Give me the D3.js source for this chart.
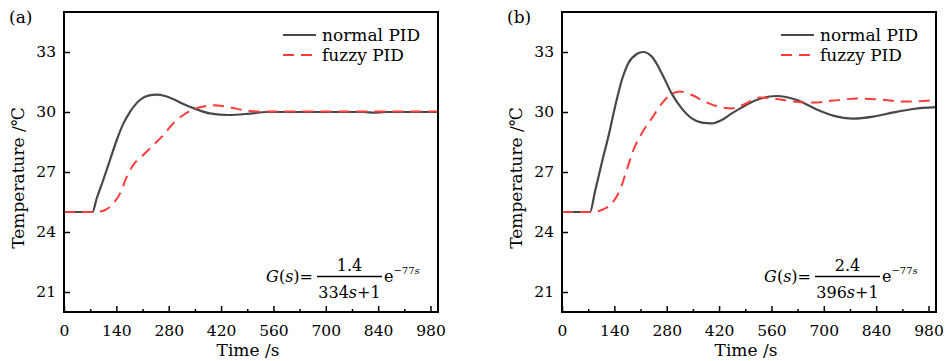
<!DOCTYPE html>
<html>
<head>
    <meta charset="UTF-8">
    <style>
        *{
            margin: 0;
            padding: 0;
        }
        body{
            background-color: #fff;
        }
        #chart{
            background-color: #fff;
            font-family: "DejaVu Serif", serif;
        }
    </style>
    <script src="https://d3js.org/d3.v7.min.js"></script>
    <title>PID step response</title>
</head>
<body>
<svg id="chart" width="946" height="361"></svg>
<script>
    // tick labels
    var xTicks = [0, 140, 280, 420, 560, 700, 840, 980];
    var xMinor = [70, 210, 350, 490, 630, 770, 910];
    var yTicks = [21, 24, 27, 30, 33];
    var seriesNames = ["normal PID", "fuzzy PID"];

    // (a) G(s) = 1.4/(334s+1) e^-77s
    var timeA_normal = [0, 76, 87, 105, 123, 141, 159, 177, 203, 228, 248, 270, 295, 319, 355, 390, 440, 497, 542, 600, 700, 800, 830, 860, 900, 1000];
    var tempA_normal = [25, 25, 25.65, 26.6, 27.6, 28.6, 29.43, 30.02, 30.6, 30.83, 30.87, 30.8, 30.62, 30.4, 30.13, 29.93, 29.85, 29.92, 30.0, 30.0, 30.0, 30.0, 29.97, 30.0, 30.0, 30.0];
    var timeA_fuzzy = [0, 85, 110, 132, 150, 168, 185, 212, 239, 266, 292, 319, 346, 373, 400, 444, 479, 524, 600, 700, 800, 900, 1000];
    var tempA_fuzzy = [25, 25, 25.1, 25.43, 25.93, 26.77, 27.35, 27.85, 28.35, 28.85, 29.43, 29.85, 30.13, 30.27, 30.34, 30.23, 30.1, 30.02, 30.02, 30.02, 30.02, 30.02, 30.02];

    // (b) G(s) = 2.4/(396s+1) e^-77s
    var timeB_normal = [0, 75, 88, 106, 124, 142, 160, 177, 200, 217, 240, 267, 293, 320, 347, 374, 400, 427, 454, 480, 520, 574, 628, 681, 725, 779, 832, 886, 939, 1000];
    var tempB_normal = [25, 25, 26.0, 27.43, 28.77, 30.27, 31.6, 32.43, 32.9, 33.0, 32.77, 31.93, 30.93, 30.18, 29.68, 29.47, 29.43, 29.6, 29.93, 30.22, 30.6, 30.8, 30.6, 30.13, 29.82, 29.67, 29.77, 29.98, 30.15, 30.24];
    var timeB_fuzzy = [0, 82, 106, 133, 155, 173, 191, 213, 240, 267, 293, 316, 347, 382, 418, 454, 489, 529, 565, 618, 672, 725, 788, 850, 913, 1000];
    var tempB_fuzzy = [25, 25, 25.1, 25.43, 26.1, 27.1, 28.1, 28.93, 29.68, 30.43, 30.9, 31.02, 30.85, 30.52, 30.27, 30.18, 30.4, 30.72, 30.68, 30.52, 30.47, 30.57, 30.67, 30.63, 30.52, 30.6];

    var svg = d3.select("#chart");
    var plotTop = 12, height = 300, width = 374;

    function zip(t, v) {
        return t.map(function (d, i) { return [d, v[i]]; });
    }

    function drawPanel(x0, tag, normal, fuzzy, num, den) {
        var x = d3.scaleLinear().domain([0, 1000]).range([0, width]),
            y = d3.scaleLinear().domain([20, 35]).range([height, 0]);

        var g = svg.append("g")
            .attr("transform", "translate(" + x0 + "," + plotTop + ")");

        var line = d3.line()
            .x(function (d) { return x(d[0]); })
            .y(function (d) { return y(d[1]); })
            .curve(d3.curveMonotoneX);

        g.append("path")
            .datum(normal)
            .attr("fill", "none")
            .attr("stroke", "#484848")
            .attr("stroke-width", 2.2)
            .attr("d", line);

        g.append("path")
            .datum(fuzzy)
            .attr("fill", "none")
            .attr("stroke", "#ff3b3b")
            .attr("stroke-width", 2)
            .attr("stroke-dasharray", "11,7")
            .attr("d", line);

        // axes, ticks point inward
        var xAxis = g.append("g")
            .attr("transform", "translate(0," + height + ")")
            .call(d3.axisBottom(x).tickValues(xTicks).tickSize(-6).tickPadding(13));
        g.append("g")
            .attr("transform", "translate(0," + height + ")")
            .call(d3.axisBottom(x).tickValues(xMinor).tickSize(-3).tickFormat(""))
            .call(function (a) {
                a.select(".domain").remove();
                a.selectAll("line").attr("stroke", "#000").attr("stroke-width", 1.5);
            });
        var yAxis = g.append("g")
            .call(d3.axisLeft(y).tickValues(yTicks).tickSize(-6).tickPadding(8));

        [xAxis, yAxis].forEach(function (a) {
            a.select(".domain").remove();
            a.selectAll("text")
                .attr("font-family", "DejaVu Serif, serif")
                .attr("font-size", "15.5px")
                .attr("fill", "#000");
            a.selectAll("line").attr("stroke", "#000").attr("stroke-width", 1.5);
        });

        g.append("rect")
            .attr("width", width).attr("height", height)
            .attr("fill", "none")
            .attr("stroke", "#000")
            .attr("stroke-width", 2);

        // legend
        var leg = g.append("g");
        [0, 1].forEach(function (i) {
            var ly = 23 + i * 20;
            leg.append("line")
                .attr("x1", 219).attr("x2", 252)
                .attr("y1", ly).attr("y2", ly)
                .attr("stroke", i === 0 ? "#484848" : "#ff3b3b")
                .attr("stroke-width", i === 0 ? 2.2 : 2)
                .attr("stroke-dasharray", i === 0 ? null : "11,7");
            leg.append("text")
                .attr("x", 258).attr("y", ly + 6)
                .attr("font-size", "17px")
                .text(seriesNames[i]);
        });

        // transfer function
        var f = g.append("g").attr("font-size", "16px");
        f.append("text")
            .attr("x", 249).attr("y", 270)
            .attr("text-anchor", "end")
            .html('<tspan font-style="italic">G</tspan>(<tspan font-style="italic">s</tspan>)=');
        f.append("line")
            .attr("x1", 253).attr("x2", 318)
            .attr("y1", 264.5).attr("y2", 264.5)
            .attr("stroke", "#000").attr("stroke-width", 1.3);
        f.append("text")
            .attr("x", 285.5).attr("y", 259)
            .attr("text-anchor", "middle")
            .text(num);
        f.append("text")
            .attr("x", 285.5).attr("y", 286)
            .attr("text-anchor", "middle")
            .html(den + '<tspan font-style="italic">s</tspan>+1');
        f.append("text")
            .attr("x", 320).attr("y", 270)
            .html('e<tspan font-size="10px" dy="-8">\u221277<tspan font-style="italic">s</tspan></tspan>');

        // titles
        svg.append("text")
            .attr("x", x0 - 55).attr("y", 23)
            .attr("font-size", "17px")
            .text(tag);
        svg.append("text")
            .attr("transform", "translate(" + (x0 - 40) + "," + (plotTop + height / 2 + 16) + ") rotate(-90)")
            .attr("text-anchor", "middle")
            .attr("font-size", "17px")
            .text("Temperature /\u2103");
        svg.append("text")
            .attr("x", x0 + width / 2 - 3).attr("y", 356)
            .attr("text-anchor", "middle")
            .attr("font-size", "17px")
            .text("Time /s");
    }

    drawPanel(64, "(a)", zip(timeA_normal, tempA_normal), zip(timeA_fuzzy, tempA_fuzzy), "1.4", "334");
    drawPanel(562, "(b)", zip(timeB_normal, tempB_normal), zip(timeB_fuzzy, tempB_fuzzy), "2.4", "396");
</script>
</body>
</html>
